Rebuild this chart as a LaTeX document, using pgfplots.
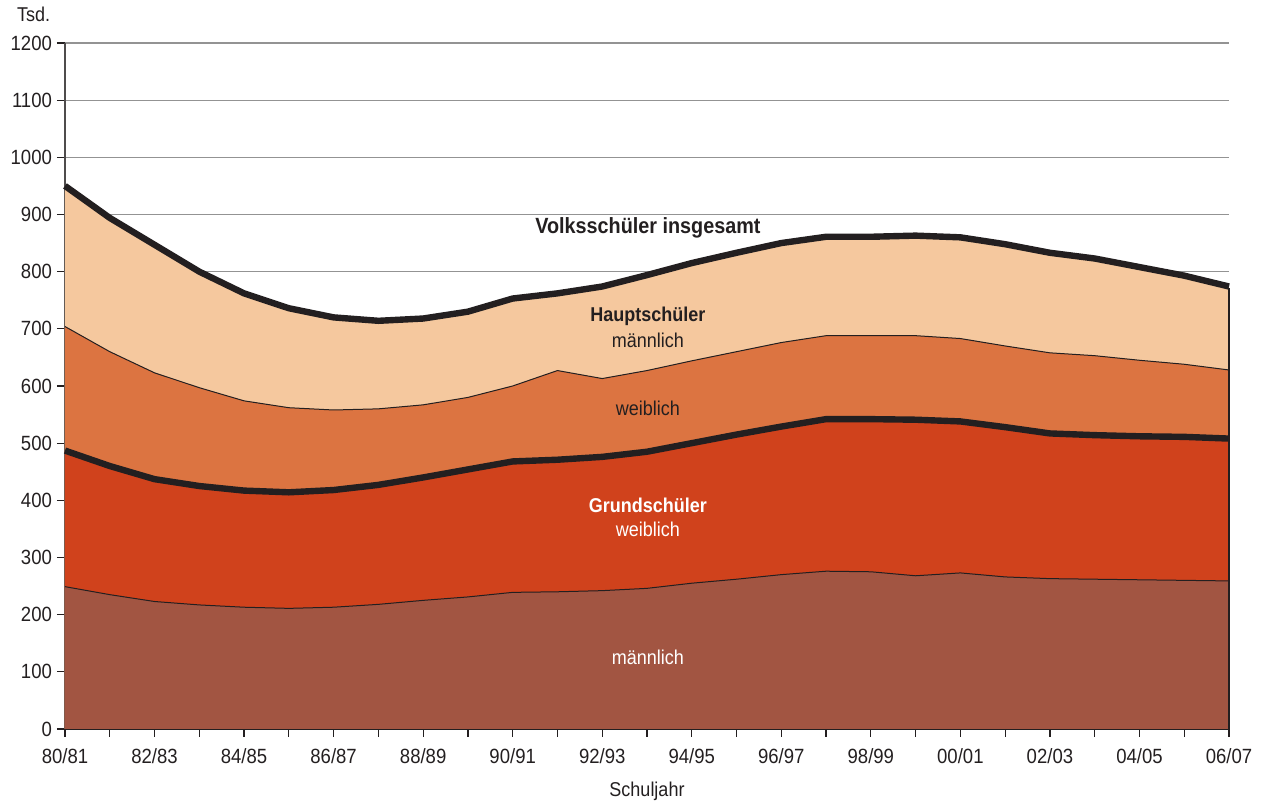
\documentclass[border=0pt]{standalone}
\usepackage{fontspec}
\setmainfont{Liberation Sans}[FakeStretch=0.9]
\usepackage{pgfplots}
\usepackage{pgfplotstable}
\pgfplotsset{compat=1.18}

\definecolor{hsm}{HTML}{F5C89E}
\definecolor{hsw}{HTML}{DC7441}
\definecolor{gsw}{HTML}{D0421C}
\definecolor{gsm}{HTML}{A25542}
\definecolor{rahmen}{HTML}{231F20}

% Schueler in Tsd., je Schuljahr (0 = 80/81 ... 26 = 06/07)
\pgfplotstableread{
i  gsm gsw hsw hsm
0  249 238 217 246
1  235 225 200 234
2  223 214 186 224
3  217 208 172 203
4  213 204 157 188
5  211 203 148 174
6  213 205 140 162
7  218 209 133 154
8  225 215 127 151
9  231 223 126 150
10 239 229 132 153
11 240 231 156 135
12 242 234 137 161
13 246 239 142 167
14 255 245 144 171
15 262 253 145 173
16 270 259 147 174
17 276 266 146 173
18 275 267 146 173
19 268 273 147 175
20 273 265 145 177
21 266 262 142 178
22 263 254 141 175
23 262 252 139 170
24 261 251 133 163
25 260 251 127 155
26 259 249 120 146
}\schueler

\begin{document}
\begin{tikzpicture}
\begin{axis}[
  scale only axis,
  width=582pt, height=343pt,
  xmin=0, xmax=26, ymin=0, ymax=1200,
  axis x line*=bottom, axis y line*=left,
  x axis line style={rahmen, line width=0.9pt, -},
  y axis line style={rahmen!80, line width=0.6pt, -},
  xtick={0,...,26},
  xticklabels={80/81,,82/83,,84/85,,86/87,,88/89,,90/91,,92/93,,94/95,,96/97,,98/99,,00/01,,02/03,,04/05,,06/07},
  ytick={0,100,...,1200},
  tick align=outside,
  major tick length=4pt,
  tick style={rahmen, line width=0.6pt},
  ymajorgrids,
  grid style={gray!85, line width=0.55pt},
  /pgf/number format/assume math mode=true,
  /pgf/number format/1000 sep={},
  ticklabel style={font=\fontsize{10.3pt}{12pt}\selectfont, text=rahmen},
  yticklabel style={xshift=1pt},
  xticklabel style={yshift=-2.5pt},
  clip=false,
]
\addplot[draw=none, fill=hsm] table[x=i, y expr=\thisrow{gsm}+\thisrow{gsw}+\thisrow{hsw}+\thisrow{hsm}] {\schueler} \closedcycle;
\addplot[draw=none, fill=hsw] table[x=i, y expr=\thisrow{gsm}+\thisrow{gsw}+\thisrow{hsw}] {\schueler} \closedcycle;
\addplot[draw=none, fill=gsw] table[x=i, y expr=\thisrow{gsm}+\thisrow{gsw}] {\schueler} \closedcycle;
\addplot[draw=none, fill=gsm] table[x=i, y=gsm] {\schueler} \closedcycle;

\addplot[rahmen, line width=0.5pt] table[x=i, y=gsm] {\schueler};
\addplot[rahmen, line width=0.5pt] table[x=i, y expr=\thisrow{gsm}+\thisrow{gsw}+\thisrow{hsw}] {\schueler};
\addplot[rahmen, line width=3.2pt, line join=round] table[x=i, y expr=\thisrow{gsm}+\thisrow{gsw}] {\schueler};
\addplot[rahmen, line width=3.2pt, line join=round] table[x=i, y expr=\thisrow{gsm}+\thisrow{gsw}+\thisrow{hsw}+\thisrow{hsm}] {\schueler};
\addplot[rahmen, line width=0.6pt] coordinates {(26,0) (26,772)};

\node[font=\fontsize{11pt}{13pt}\selectfont\bfseries, text=rahmen] at (axis cs:13.02,876) {Volksschüler insgesamt};
\node[font=\fontsize{10pt}{12pt}\selectfont\bfseries, text=rahmen] at (axis cs:13.02,721) {Hauptschüler};
\node[font=\fontsize{10pt}{12pt}\selectfont, text=rahmen] at (axis cs:13.02,679) {männlich};
\node[font=\fontsize{10pt}{12pt}\selectfont, text=rahmen] at (axis cs:13.02,560) {weiblich};
\node[font=\fontsize{10pt}{12pt}\selectfont\bfseries, text=white] at (axis cs:13.02,392) {Grundschüler};
\node[font=\fontsize{10pt}{12pt}\selectfont, text=white] at (axis cs:13.02,350) {weiblich};
\node[font=\fontsize{10pt}{12pt}\selectfont, text=white] at (axis cs:13.02,126) {männlich};

\node[anchor=base west, font=\fontsize{10pt}{12pt}\selectfont, text=rahmen, xshift=-27.5pt, yshift=10.5pt] at (rel axis cs:0,1) {Tsd.};
\node[anchor=base, font=\fontsize{10pt}{12pt}\selectfont, text=rahmen, yshift=-34pt] at (rel axis cs:0.5,0) {Schuljahr};
\end{axis}
\pgfresetboundingbox
\path ([xshift=-32.5pt,yshift=-38pt]current axis.south west) rectangle ([xshift=20pt,yshift=21.5pt]current axis.north east);
\end{tikzpicture}
\end{document}
